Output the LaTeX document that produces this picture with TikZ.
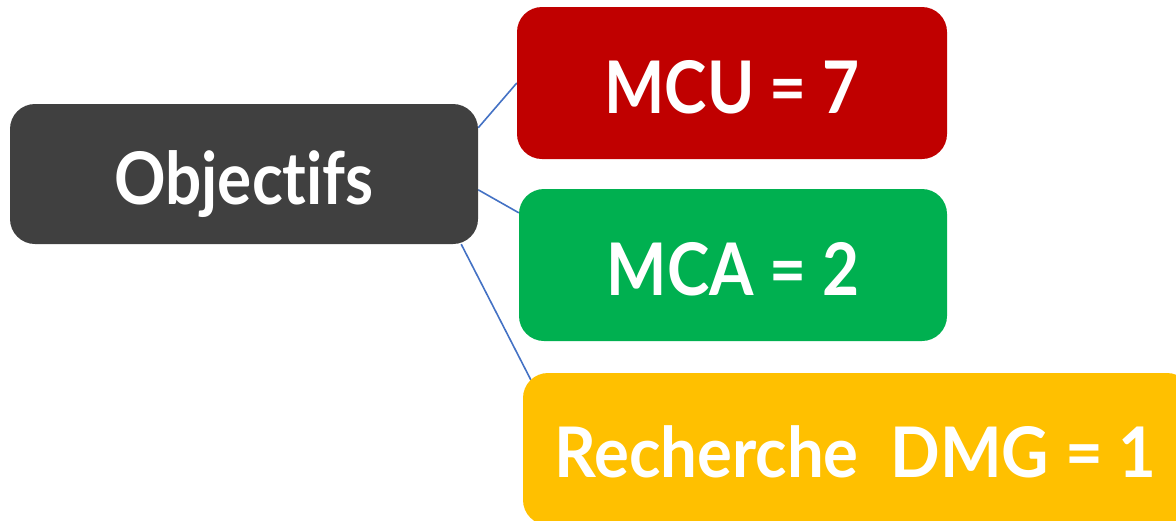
\documentclass[tikz,border=0pt]{standalone}
\usepackage{fontspec}
\setmainfont{Lato}[FakeStretch=0.88, Ligatures={NoCommon}]
\newfontfamily\widerfont{Lato}[FakeStretch=0.935, Ligatures={NoCommon}]
\usetikzlibrary{backgrounds}
\definecolor{boxgray}{HTML}{404040}
\definecolor{boxred}{HTML}{C00000}
\definecolor{boxgreen}{HTML}{00B050}
\definecolor{boxyellow}{HTML}{FFC000}
\definecolor{linkblue}{HTML}{4472C4}
\tikzset{
  card/.style={rectangle, rounded corners=25pt, inner sep=0pt, text=white,
    font=\fontsize{72.6pt}{80pt}\selectfont\bfseries, text height=60pt, text depth=0pt},
  link/.style={draw=linkblue, line width=1.6pt}
}
\begin{document}
\begin{tikzpicture}[x=1pt,y=1pt]
\useasboundingbox (0,0) rectangle (1176,-520);
\node[card, fill=boxgray, minimum width=468pt, minimum height=140pt] (obj) at (244,-174) {Objectifs};
\node[card, fill=boxred, minimum width=430pt, minimum height=152pt] (mcu) at (732,-83) {MCU = 7};
\node[card, fill=boxgreen, minimum width=428pt, minimum height=152pt] (mca) at (733,-265) {MCA = 2};
\node[card, fill=boxyellow, minimum width=669pt, minimum height=152pt,
  font=\widerfont\fontsize{69.8pt}{78pt}\selectfont\bfseries, text height=56pt] (dmg) at (857.5,-449) {\hspace*{-4pt}Recherche\ \ DMG = 1};
\begin{scope}[on background layer]
\draw[link] ([yshift=-24pt]obj.north east) -- (mcu.west);
\draw[link] ([yshift=-86pt]obj.north east) -- ([yshift=-24pt]mca.north west);
\draw[link] ([xshift=-17pt]obj.south east) -- ([xshift=8pt,yshift=-7pt]dmg.north west);
\end{scope}
\end{tikzpicture}
\end{document}
